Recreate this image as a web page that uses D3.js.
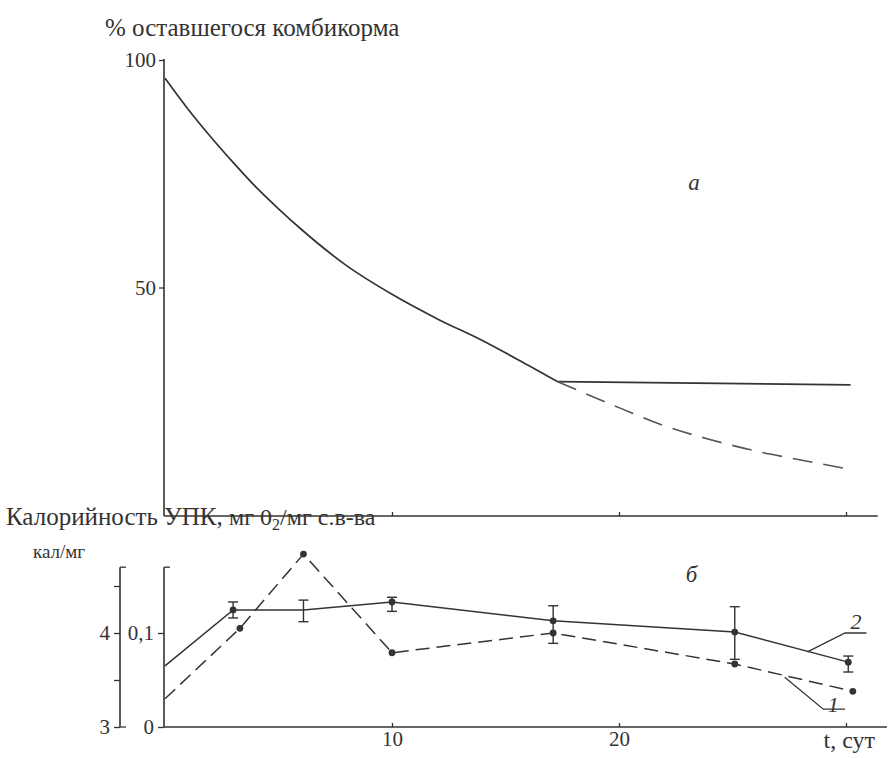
<!DOCTYPE html>
<html>
<head>
<meta charset="utf-8">
<script src="https://cdn.jsdelivr.net/npm/d3@7"></script>
<style>
body { margin: 0; background: #fff; }
</style>
</head>
<body>
<script>
var width = 889, height = 758;

// upper panel (a): % of feed remaining
var feedT = [0, 1, 2, 3, 4, 5, 6, 8, 10, 12, 14, 16, 17.3];
var feedV = [96, 89.3, 83.2, 77.5, 72.1, 67.3, 62.8, 54.8, 48.5, 43.1, 38.3, 32.9, 29.3];
var flatT = [17.3, 30.2];
var flatV = [29.3, 28.6];
var dashT = [17.3, 20, 22, 24, 26, 28, 30];
var dashV = [29.3, 23.6, 19.6, 16.6, 14.1, 12.1, 10.2];

// lower panel (б)
var t1 = [0, 3.3, 6.1, 10.0, 17.1, 25.1, 30.3];
var v1 = [0.030, 0.105, 0.184, 0.079, 0.100, 0.067, 0.038];
var mark1 = [0, 1, 1, 1, 1, 1, 1];

var t2 = [0, 3.0, 6.1, 10.0, 17.1, 25.1, 30.1];
var v2 = [0.065, 0.1245, 0.1245, 0.133, 0.113, 0.101, 0.069];
var lo2 = [null, 0.116, 0.112, 0.123, 0.089, 0.072, 0.0585];
var hi2 = [null, 0.133, 0.135, 0.138, 0.129, 0.128, 0.0755];
var mark2 = [0, 1, 0, 1, 1, 1, 1];

var xTicks = [10, 20, 30];
var xLabels = ["10", "20", "t, сут"];

var ink = "#333";
var serif = "'Liberation Serif', 'Times New Roman', serif";

var svg = d3.select("body")
.append("svg")
.attr("width", width)
.attr("height", height)
.attr("font-family", serif);

var x = d3.scaleLinear().domain([0, 30]).range([165, 846]);
var yTop = d3.scaleLinear().domain([0, 100]).range([515, 60]);
var yBot = d3.scaleLinear().domain([0, 0.1]).range([727, 633]);
var yCal = d3.scaleLinear().domain([3, 4]).range([727, 633]);

function styleAxis(g){
    g.attr("font-family", serif).attr("font-size", 21);
    g.selectAll("path.domain").remove();
    g.selectAll("line").attr("stroke", ink).attr("stroke-width", 1.3);
    g.selectAll("text").attr("fill", ink);
}

function label(tx, ty, str, size){
    return svg.append("text")
    .attr("x", tx).attr("y", ty)
    .attr("font-family", serif)
    .attr("font-size", size)
    .attr("fill", ink)
    .text(str);
}

// ---- upper panel ----
svg.append("g")
.attr("transform", "translate(164,0)")
.call(d3.axisLeft(yTop).tickValues([50, 100]).tickSize(5).tickPadding(3))
.call(styleAxis);

svg.append("line")
.attr("x1", 164).attr("x2", 164)
.attr("y1", yTop(100) - 1).attr("y2", yTop(0) + 1)
.attr("stroke", ink).attr("stroke-width", 1.6);

svg.append("g")
.attr("transform", "translate(0," + (yTop(0) + 1) + ")")
.call(d3.axisBottom(x).tickValues(xTicks).tickSize(-4).tickFormat(""))
.call(styleAxis);

svg.append("line")
.attr("x1", 164).attr("x2", x(31.4))
.attr("y1", yTop(0) + 1).attr("y2", yTop(0) + 1)
.attr("stroke", ink).attr("stroke-width", 1.6);

var lineTop = d3.line()
.x(function(d){ return x(d[0]); })
.y(function(d){ return yTop(d[1]); })
.curve(d3.curveMonotoneX);

svg.append("path")
.attr("d", lineTop(d3.zip(feedT, feedV)))
.attr("fill", "none").attr("stroke", ink).attr("stroke-width", 1.7);

svg.append("path")
.attr("d", lineTop(d3.zip(flatT, flatV)))
.attr("fill", "none").attr("stroke", ink).attr("stroke-width", 1.7);

svg.append("path")
.attr("d", lineTop(d3.zip(dashT, dashV)))
.attr("fill", "none").attr("stroke", "#555").attr("stroke-width", 1.6)
.attr("stroke-dasharray", "20,11");

label(105, 36, "% оставшегося комбикорма", 25);

label(x(23.3), yTop(71.4), "a", 23)
.attr("font-style", "italic")
.attr("text-anchor", "middle");

// ---- lower panel ----
// inner axis (мг O2 / мг)
svg.append("g")
.attr("transform", "translate(164,0)")
.call(d3.axisLeft(yBot).tickValues([0, 0.1]).tickSize(6).tickPadding(4)
    .tickFormat(function(d){ return d === 0 ? "0" : "0,1"; }))
.call(styleAxis);

svg.append("line")
.attr("x1", 164).attr("x2", 164)
.attr("y1", yBot(0.17)).attr("y2", yBot(0))
.attr("stroke", ink).attr("stroke-width", 1.6);
svg.append("line")
.attr("x1", 164).attr("x2", 170)
.attr("y1", yBot(0.17)).attr("y2", yBot(0.17))
.attr("stroke", ink).attr("stroke-width", 1.3);

// outer axis (кал/мг)
svg.append("g")
.attr("transform", "translate(120,0)")
.call(d3.axisLeft(yCal).tickValues([3, 3.5, 4, 4.5]).tickSize(6).tickPadding(4)
    .tickFormat(function(d){ return d % 1 === 0 ? d : ""; }))
.call(styleAxis);

svg.append("line")
.attr("x1", 120).attr("x2", 120)
.attr("y1", yCal(4.7)).attr("y2", yCal(3))
.attr("stroke", ink).attr("stroke-width", 1.6);
svg.append("line")
.attr("x1", 120).attr("x2", 126)
.attr("y1", yCal(4.7)).attr("y2", yCal(4.7))
.attr("stroke", ink).attr("stroke-width", 1.3);
svg.append("line")
.attr("x1", 120).attr("x2", 126)
.attr("y1", yCal(3)).attr("y2", yCal(3))
.attr("stroke", ink).attr("stroke-width", 1.3);

// bottom x axis
var xAxisB = svg.append("g")
.attr("transform", "translate(0," + yBot(0) + ")")
.call(d3.axisBottom(x).tickValues(xTicks).tickSize(-4).tickPadding(4)
    .tickFormat(function(d, i){ return xLabels[i]; }))
.call(styleAxis);
xAxisB.selectAll(".tick").filter(function(d){ return d === 30; })
.select("text").attr("text-anchor", "start").attr("x", -23).attr("font-size", 24);

svg.append("line")
.attr("x1", 164).attr("x2", x(31.8))
.attr("y1", yBot(0)).attr("y2", yBot(0))
.attr("stroke", ink).attr("stroke-width", 1.6);

var lineBot = d3.line()
.x(function(d){ return x(d[0]); })
.y(function(d){ return yBot(d[1]); });

svg.append("path")
.attr("d", lineBot(d3.zip(t1, v1)))
.attr("fill", "none").attr("stroke", ink).attr("stroke-width", 1.5)
.attr("stroke-dasharray", "14,7");

svg.append("path")
.attr("d", lineBot(d3.zip(t2, v2)))
.attr("fill", "none").attr("stroke", ink).attr("stroke-width", 1.5);

// error bars for series 2
var errData = d3.range(t2.length).filter(function(i){ return lo2[i] !== null; });
var eb = svg.selectAll(".err")
.data(errData)
.enter().append("g")
.attr("class", "err");
eb.append("line")
.attr("x1", function(i){ return x(t2[i]); })
.attr("x2", function(i){ return x(t2[i]); })
.attr("y1", function(i){ return yBot(lo2[i]); })
.attr("y2", function(i){ return yBot(hi2[i]); })
.attr("stroke", ink).attr("stroke-width", 1.4);
eb.append("line")
.attr("x1", function(i){ return x(t2[i]) - 5; })
.attr("x2", function(i){ return x(t2[i]) + 5; })
.attr("y1", function(i){ return yBot(lo2[i]); })
.attr("y2", function(i){ return yBot(lo2[i]); })
.attr("stroke", ink).attr("stroke-width", 1.4);
eb.append("line")
.attr("x1", function(i){ return x(t2[i]) - 5; })
.attr("x2", function(i){ return x(t2[i]) + 5; })
.attr("y1", function(i){ return yBot(hi2[i]); })
.attr("y2", function(i){ return yBot(hi2[i]); })
.attr("stroke", ink).attr("stroke-width", 1.4);

svg.selectAll(".dot1")
.data(d3.range(t1.length).filter(function(i){ return mark1[i]; }))
.enter().append("circle")
.attr("class", "dot1")
.attr("cx", function(i){ return x(t1[i]); })
.attr("cy", function(i){ return yBot(v1[i]); })
.attr("r", 3.4)
.attr("fill", ink);

svg.selectAll(".dot2")
.data(d3.range(t2.length).filter(function(i){ return mark2[i]; }))
.enter().append("circle")
.attr("class", "dot2")
.attr("cx", function(i){ return x(t2[i]); })
.attr("cy", function(i){ return yBot(v2[i]); })
.attr("r", 3.4)
.attr("fill", ink);

// leaders for curve labels
var lead2 = [[28.3, 0.080], [29.96, 0.100], [30.9, 0.100]];
var lead1 = [[27.3, 0.053], [29.0, 0.019], [29.96, 0.019]];
[lead1, lead2].forEach(function(l){
    svg.append("path")
    .attr("d", lineBot(l))
    .attr("fill", "none").attr("stroke", ink).attr("stroke-width", 1.3);
});

label(x(30.2), yBot(0.104), "2", 22).attr("font-style", "italic");
label(x(29.2), yBot(0.016), "1", 22).attr("font-style", "italic");

label(x(23.2), yBot(0.154), "б", 23)
.attr("font-style", "italic")
.attr("text-anchor", "middle");

var lab = label(6, 525, "", 25);
lab.append("tspan").text("Калорийность УПК, ");
lab.append("tspan").attr("font-size", 24).text("мг 0");
lab.append("tspan").attr("font-size", 16).attr("dy", 5).text("2");
lab.append("tspan").attr("font-size", 24).attr("dy", -5).text("/мг с.в-ва");

label(33, 558, "кал/мг", 19);
</script>
</body>
</html>
